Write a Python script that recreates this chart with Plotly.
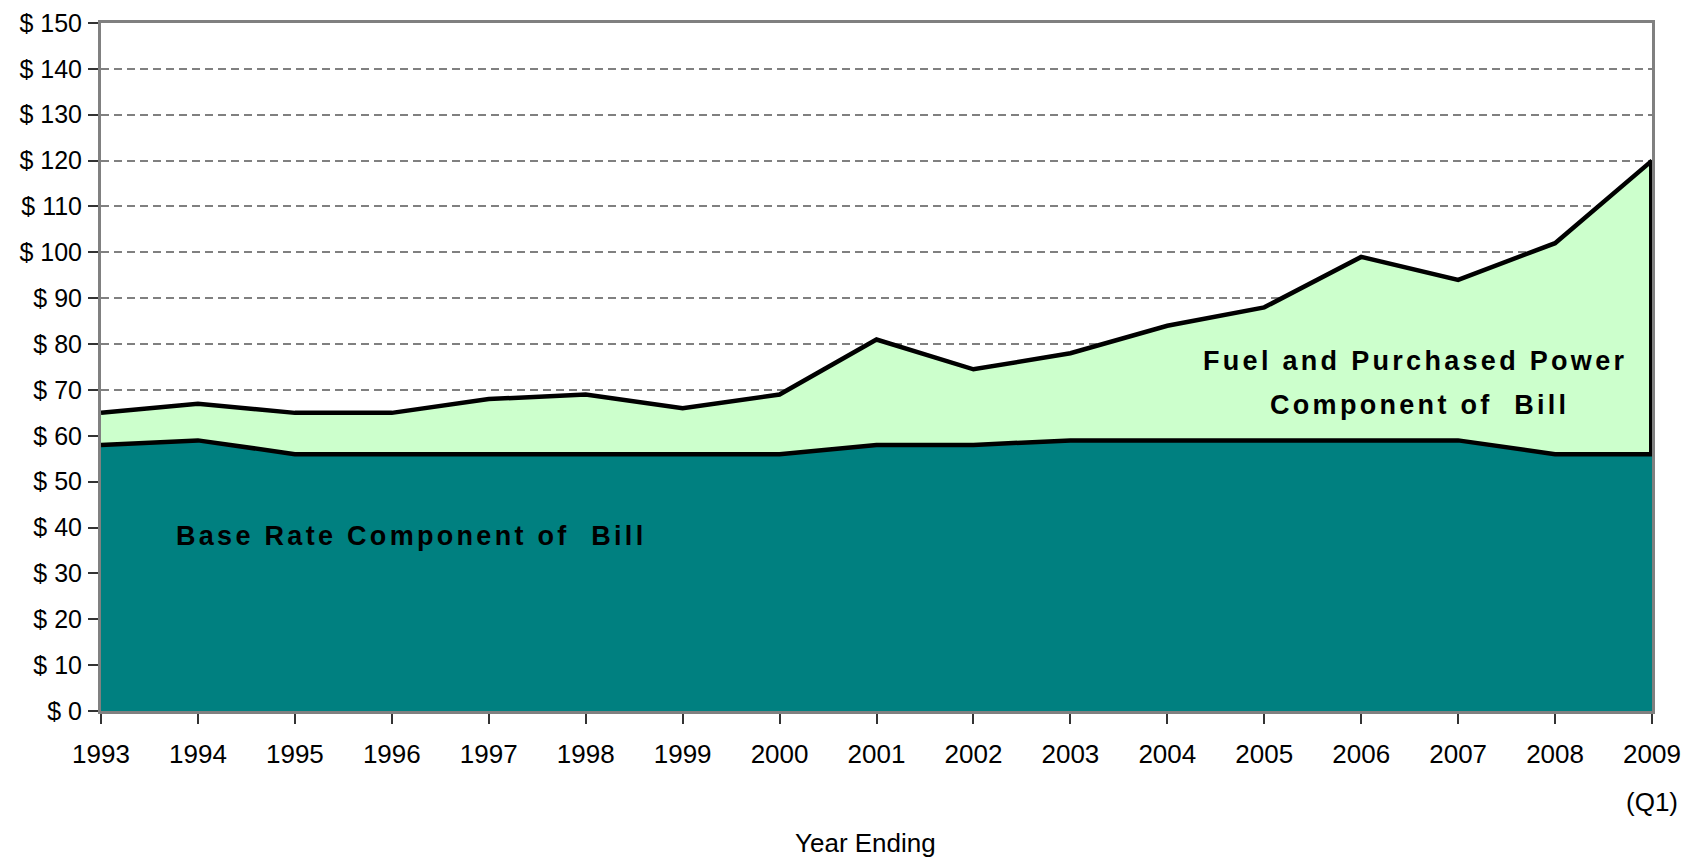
import plotly.graph_objects as go

years = [1993, 1994, 1995, 1996, 1997, 1998, 1999, 2000, 2001,
         2002, 2003, 2004, 2005, 2006, 2007, 2008, 2009]
year_labels = [str(y) for y in years]
base_rate = [58, 59, 56, 56, 56, 56, 56, 56, 58, 58, 59, 59, 59, 59, 59, 56, 56]
fuel_power = [7, 8, 9, 9, 12, 13, 10, 13, 23, 16.5, 19, 25, 29, 40, 35, 46, 64]
y_ticks = list(range(0, 151, 10))
y_tick_labels = ["$ " + str(v) for v in y_ticks]

TEAL = "#008080"
LIGHT = "#CCFFCC"
FONT = "Liberation Sans, Arial, sans-serif"

fig = go.Figure()
fig.add_trace(go.Scatter(
    x=years, y=base_rate, stackgroup="one", mode="lines",
    fillcolor=TEAL, line=dict(color="black", width=4.5),
    name="Base Rate Component of Bill", hoverinfo="x+y"))
fig.add_trace(go.Scatter(
    x=years, y=fuel_power, stackgroup="one", mode="lines",
    fillcolor=LIGHT, line=dict(color="black", width=4.5),
    name="Fuel and Purchased Power Component of Bill", hoverinfo="x+y"))
# right-hand edge of the fuel area
fig.add_trace(go.Scatter(
    x=[years[-1], years[-1]],
    y=[base_rate[-1], base_rate[-1] + fuel_power[-1]],
    mode="lines", line=dict(color="black", width=6),
    showlegend=False, hoverinfo="skip", cliponaxis=False))

ls = "letter-spacing:3.3px"
AF = dict(family=FONT, size=27, color="black")
fig.add_annotation(x=1996.2, y=38.1, xref="x", yref="y", showarrow=False,
                   text=f"<span style='{ls}'><b>Base Rate Component of  Bill</b></span>",
                   font=AF)
fig.add_annotation(x=2006.55, y=76.3, xref="x", yref="y", showarrow=False,
                   text=f"<span style='{ls}'><b>Fuel and Purchased Power</b></span>",
                   font=AF)
fig.add_annotation(x=2006.6, y=66.7, xref="x", yref="y", showarrow=False,
                   text=f"<span style='{ls}'><b>Component of  Bill</b></span>",
                   font=AF)
fig.add_annotation(x=1.0, y=-0.1323, xref="paper", yref="paper", showarrow=False,
                   text="(Q1)", xanchor="center", yanchor="middle",
                   font=dict(family=FONT, size=26, color="black"))
fig.add_annotation(x=0.4926, y=-0.1919, xref="paper", yref="paper", showarrow=False,
                   text="Year Ending", xanchor="center", yanchor="middle",
                   font=dict(family=FONT, size=26, color="black"))

fig.update_layout(
    width=1688, height=851,
    margin=dict(l=93, r=44, t=15, b=148, autoexpand=False),
    paper_bgcolor="white", plot_bgcolor="white",
    showlegend=False,
    font=dict(family=FONT, size=26, color="black"),
    xaxis=dict(
        range=[years[0], years[-1]], automargin=False,
        tickmode="array", tickvals=years, ticktext=year_labels,
        ticks="outside", ticklen=10, tickwidth=1.5, tickcolor="#333333",
        ticklabelstandoff=8, ticklabeloverflow="allow",
        showgrid=False, zeroline=False,
        showline=True, linecolor="#808080", linewidth=3, mirror=True,
        tickfont=dict(family=FONT, size=26, color="black"),
    ),
    yaxis=dict(
        range=[0, 150], automargin=False,
        tickmode="array", tickvals=y_ticks, ticktext=y_tick_labels,
        ticks="outside", ticklen=10, tickwidth=1.5, tickcolor="#333333",
        ticklabelstandoff=1, ticklabeloverflow="allow",
        showgrid=True, gridcolor="#808080", gridwidth=1.5, griddash="8px,5px",
        zeroline=False,
        showline=True, linecolor="#808080", linewidth=3, mirror=True,
        tickfont=dict(family=FONT, size=25, color="black"),
    ),
)

fig.write_html("out.html")
